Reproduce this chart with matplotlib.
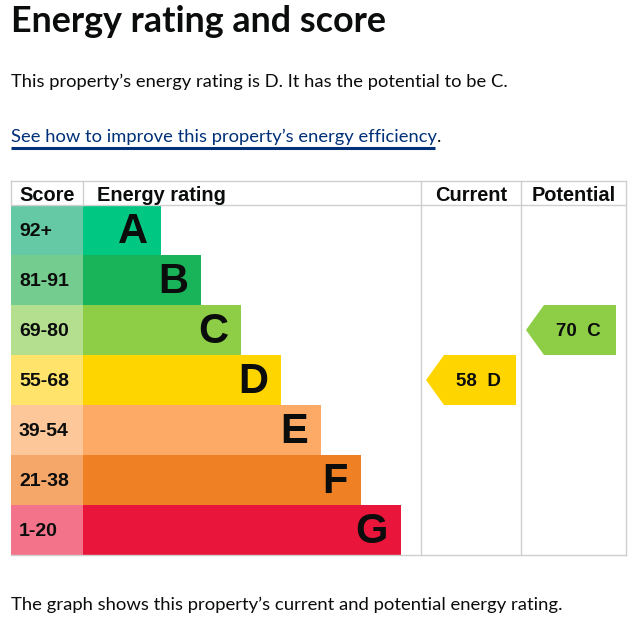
import matplotlib
matplotlib.use("Agg")
import matplotlib.pyplot as plt
from matplotlib.patches import Rectangle, Polygon

# chart data
bands = ["A", "B", "C", "D", "E", "F", "G"]
score_labels = ["92+", "81-91", "69-80", "55-68", "39-54", "21-38", "1-20"]
band_min = [92, 81, 69, 55, 39, 21, 1]
band_colors = ["#00c781", "#19b459", "#8dce46", "#ffd500", "#fcaa65", "#ef8023", "#e9153b"]
score_colors = ["#66c9a5", "#74cc8f", "#b3df8e", "#ffe36b", "#fdc79a", "#f5a76a", "#f2738a"]
current_score = 58
potential_score = 70

W, H = 632, 621
fig = plt.figure(figsize=(W / 100, H / 100), dpi=100)
ax = fig.add_axes([0, 0, 1, 1])
ax.set_xlim(0, W)
ax.set_ylim(H, 0)
ax.axis("off")

body = "Lato"
arial = "Liberation Sans"
grid = "#cfcfcf"

ax.text(11, 21, "Energy rating and score", fontsize=25.8, fontweight="bold",
        family=body, va="center", ha="left", color="#0b0c0c")
ax.text(11, 82, "This property\u2019s energy rating is D. It has the potential to be C.",
        fontsize=13.2, family=body, va="center", ha="left", color="#0b0c0c")
lnk = ax.text(11, 137, "See how to improve this property\u2019s energy efficiency",
              fontsize=13.2, family=body, va="center", ha="left", color="#003078")
ax.plot([11, 435], [148, 148], color="#003078", lw=2.2, solid_capstyle="butt")
ax.text(437, 137, ".", fontsize=13.2, family=body, va="center", ha="left", color="#0b0c0c")
ax.text(11, 605, "The graph shows this property\u2019s current and potential energy rating.",
        fontsize=13.3, family=body, va="center", ha="left", color="#0b0c0c")

# table layout
left, score_r, cur_l, pot_l, right = 11, 83, 421, 521, 625.5
top, head_b, row_h = 180.5, 205, 50
bottom = head_b + row_h * len(bands)

for i, b in enumerate(bands):
    y0 = head_b + i * row_h
    ax.add_patch(Rectangle((left, y0), score_r - left, row_h, color=score_colors[i], lw=0))
    bar_r = 161 + 40 * i
    ax.add_patch(Rectangle((score_r, y0), bar_r - score_r, row_h, color=band_colors[i], lw=0))
    ax.text(19, y0 + row_h / 2 + 1, score_labels[i], fontsize=14, fontweight="bold",
            family=arial, va="center", ha="left", color="#0b0c0c")
    ax.text(bar_r - 13, y0 + row_h / 2 + 2, b, fontsize=30, fontweight="bold",
            family=arial, va="center", ha="right", color="#0b0c0c")

# grid lines
ax.plot([left, right], [top, top], color=grid, lw=1)
ax.plot([left, right], [head_b, head_b], color=grid, lw=1)
ax.plot([left, right], [bottom, bottom], color=grid, lw=1)
ax.plot([left, left], [top, head_b], color=grid, lw=1)
ax.plot([score_r, score_r], [top, head_b], color=grid, lw=1)
for x in (cur_l, pot_l, right):
    ax.plot([x, x], [top, bottom], color=grid, lw=1)

hy = (top + head_b) / 2 + 2.5
for x, s, ha in [(19, "Score", "left"), (97, "Energy rating", "left"),
                 ((cur_l + pot_l) / 2, "Current", "center"),
                 ((pot_l + right) / 2, "Potential", "center")]:
    ax.text(x, hy, s, fontsize=14.4, fontweight="bold", family=arial,
            va="center", ha=ha, color="#0b0c0c")


def band_of(score):
    for i, m in enumerate(band_min):
        if score >= m:
            return i
    return len(bands) - 1


def arrow(x0, score):
    i = band_of(score)
    y0 = head_b + i * row_h
    x1 = x0 + 90
    pts = [(x0, y0 + row_h / 2), (x0 + 18, y0), (x1, y0), (x1, y0 + row_h), (x0 + 18, y0 + row_h)]
    ax.add_patch(Polygon(pts, closed=True, color=band_colors[i], lw=0))
    ax.text(x0 + 52, y0 + row_h / 2 + 1, f"{score}  {bands[i]}", fontsize=13.5,
            fontweight="bold", family=arial, va="center", ha="center", color="#0b0c0c")


arrow(426, current_score)
arrow(526, potential_score)

fig.savefig("out.png", dpi=100, facecolor="white")
